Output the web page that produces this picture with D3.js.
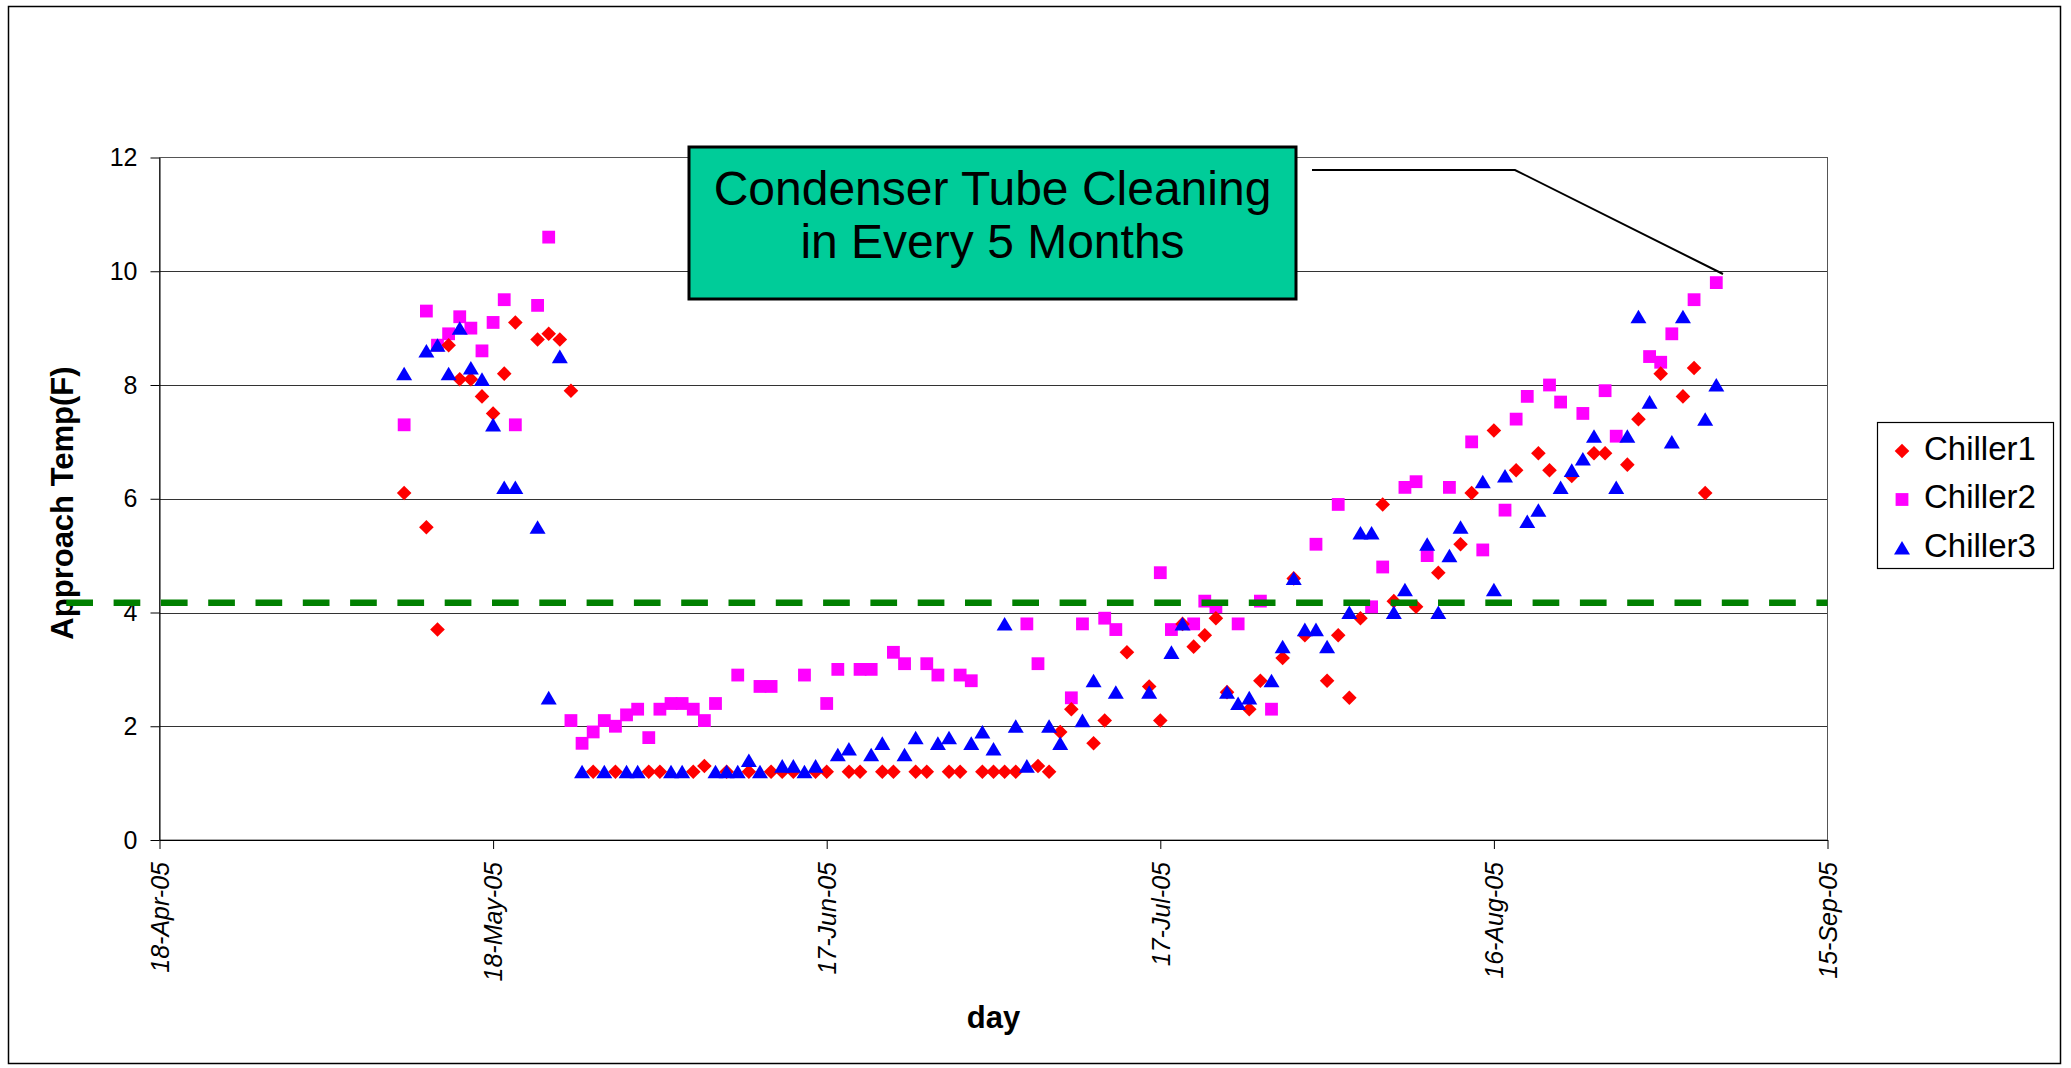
<!DOCTYPE html>
<html lang="en">
<head>
<meta charset="utf-8">
<script src="https://d3js.org/d3.v7.min.js"></script>
<style>
  body { margin: 0; background: #fff; }
  text { font-family: "Liberation Sans", Arial, sans-serif; }
</style>
</head>
<body>
<script>
// data: day offsets counted from 18-Apr-05, approach temperature in F
var chiller1Day  = [22,24,25,26,27,28,29,30,31,32,34,35,36,37,
                    39,41,44,45,48,49,51,53,55,56,57,59,60,62,63,65,66,68,69,71,72,74,75,76,77,79,80,
                    81,82,84,85,87,89,90,92,93,94,95,96,98,99,101,102,103,105,106,107,108,110,111,113,
                    115,117,118,120,122,124,125,127,129,130,132,133,135,137,138,139];
var chiller1Temp = [6.1,5.5,3.7,8.7,8.1,8.1,7.8,7.5,8.2,9.1,8.8,8.9,8.8,7.9,
                    1.2,1.2,1.2,1.2,1.2,1.3,1.2,1.2,1.2,1.2,1.2,1.2,1.2,1.2,1.2,1.2,1.2,1.2,1.2,1.2,1.2,1.2,1.2,1.2,1.2,1.3,1.2,
                    1.9,2.3,1.7,2.1,3.3,2.7,2.1,3.8,3.4,3.6,3.9,2.6,2.3,2.8,3.2,4.6,3.6,2.8,3.6,2.5,3.9,5.9,4.2,4.1,
                    4.7,5.2,6.1,7.2,6.5,6.8,6.5,6.4,6.8,6.8,6.6,7.4,8.2,7.8,8.3,6.1];

var chiller2Day  = [22,24,25,26,27,28,29,30,31,32,34,35,
                    37,38,39,40,41,42,43,44,45,46,47,48,49,50,52,54,55,58,60,61,63,64,66,67,69,70,72,73,
                    78,79,82,83,85,86,90,91,93,94,95,97,99,100,104,106,109,110,112,113,114,116,118,119,
                    121,122,123,125,126,128,130,131,134,135,136,138,140];
var chiller2Temp = [7.3,9.3,8.7,8.9,9.2,9.0,8.6,9.1,9.5,7.3,9.4,10.6,
                    2.1,1.7,1.9,2.1,2.0,2.2,2.3,1.8,2.3,2.4,2.4,2.3,2.1,2.4,2.9,2.7,2.7,2.9,2.4,3.0,3.0,3.0,3.3,3.1,3.1,2.9,2.9,2.8,
                    3.8,3.1,2.5,3.8,3.9,3.7,4.7,3.7,3.8,4.2,4.1,3.8,4.2,2.3,5.2,5.9,4.1,4.8,6.2,6.3,5.0,6.2,7.0,5.1,
                    5.8,7.4,7.8,8.0,7.7,7.5,7.9,7.1,8.5,8.4,8.9,9.5,9.8];

var chiller3Day  = [22,24,25,26,27,28,29,30,31,32,34,35,36,
                    38,40,42,43,46,47,50,51,52,53,54,56,57,58,59,61,62,64,65,67,68,70,71,73,74,75,76,77,78,
                    80,81,83,84,86,89,91,92,96,97,98,100,101,102,103,104,105,107,108,109,111,112,114,115,
                    116,117,119,120,121,123,124,126,127,128,129,131,132,133,134,136,137,139,140];
var chiller3Temp = [8.2,8.6,8.7,8.2,9.0,8.3,8.1,7.3,6.2,6.2,5.5,2.5,8.5,
                    1.2,1.2,1.2,1.2,1.2,1.2,1.2,1.2,1.2,1.4,1.2,1.3,1.3,1.2,1.3,1.5,1.6,1.5,1.7,1.5,1.8,1.7,1.8,1.7,1.9,1.6,3.8,2.0,1.3,
                    2.0,1.7,2.1,2.8,2.6,2.6,3.3,3.8,2.6,2.4,2.5,2.8,3.4,4.6,3.7,3.7,3.4,4.0,5.4,5.4,4.0,4.4,5.2,4.0,
                    5.0,5.5,6.3,4.4,6.4,5.6,5.8,6.2,6.5,6.7,7.1,6.2,7.1,9.2,7.7,7.0,9.2,7.4,8.0];

var seriesNames = ["Chiller1", "Chiller2", "Chiller3"];
var xTickDays   = [0, 30, 60, 90, 120, 150];
var yTicks      = [0, 2, 4, 6, 8, 10, 12];
var targetTemp  = 4.17;

var width  = 2071;
var height = 1068;
var plotLeft = 159.5, plotRight = 1827.5, plotTop = 157.5, plotBottom = 840;
var font = '"Liberation Sans", Arial, sans-serif';

var startDate = new Date(2005, 3, 18);
function dayDate(d) { return d3.timeDay.offset(startDate, d); }

var x = d3.scaleTime()
          .domain([startDate, dayDate(150)])
          .range([plotLeft, plotRight]);
var y = d3.scaleLinear()
          .domain([0, 12])
          .range([plotBottom, plotTop]);

var svg = d3.select("body")
            .append("svg")
            .attr("width", width)
            .attr("height", height);

svg.append("rect")
   .attr("x", 0).attr("y", 0)
   .attr("width", width).attr("height", height)
   .attr("fill", "#fff");

// outer chart border
svg.append("rect")
   .attr("x", 8.5).attr("y", 6.5)
   .attr("width", 2052).attr("height", 1057)
   .attr("fill", "none")
   .attr("stroke", "#000")
   .attr("stroke-width", 1.5);

// gridlines
svg.append("g")
   .selectAll("line")
   .data(yTicks.filter(function(t) { return t > 0 && t < 12; }))
   .enter().append("line")
   .attr("x1", plotLeft).attr("x2", plotRight)
   .attr("y1", function(d) { return Math.round(y(d)) + 0.5; })
   .attr("y2", function(d) { return Math.round(y(d)) + 0.5; })
   .attr("stroke", "#333")
   .attr("stroke-width", 1);

// plot border
svg.append("rect")
   .attr("x", plotLeft).attr("y", plotTop)
   .attr("width", plotRight - plotLeft).attr("height", plotBottom - plotTop)
   .attr("fill", "none")
   .attr("stroke", "#555")
   .attr("stroke-width", 1);

// y axis
var yAxis = svg.append("g")
   .attr("transform", "translate(" + plotLeft + ",0)")
   .call(d3.axisLeft(y).tickValues(yTicks).tickSize(9).tickPadding(13).tickSizeOuter(0));
yAxis.select(".domain").attr("stroke", "#000");
yAxis.selectAll(".tick line").attr("stroke", "#000");
yAxis.selectAll("text")
     .attr("font-family", font)
     .attr("font-size", 25)
     .attr("fill", "#000");

// x axis
var xAxis = svg.append("g")
   .attr("transform", "translate(0," + plotBottom + ")")
   .call(d3.axisBottom(x)
           .tickValues(xTickDays.map(dayDate))
           .tickFormat(d3.timeFormat("%d-%b-%y"))
           .tickSize(9)
           .tickSizeOuter(0));
xAxis.select(".domain").attr("stroke", "#000");
xAxis.selectAll(".tick line").attr("stroke", "#000");
xAxis.selectAll("text")
     .attr("font-family", font)
     .attr("font-size", 25)
     .attr("font-style", "italic")
     .attr("fill", "#000")
     .attr("text-anchor", "end")
     .attr("transform", "rotate(-90)")
     .attr("x", -22)
     .attr("y", 0)
     .attr("dy", "0.35em");

// axis titles
svg.append("text")
   .attr("transform", "translate(62,503) rotate(-90)")
   .attr("text-anchor", "middle")
   .attr("dy", "0.35em")
   .attr("font-family", font)
   .attr("font-size", 31)
   .attr("font-weight", "bold")
   .text("Approach Temp(F)");

svg.append("text")
   .attr("x", (plotLeft + plotRight) / 2)
   .attr("y", 1028)
   .attr("text-anchor", "middle")
   .attr("font-family", font)
   .attr("font-size", 31)
   .attr("font-weight", "bold")
   .text("day");

// markers
var markerPath = {
    Chiller1: "M0,-7.3L7.3,0L0,7.3L-7.3,0Z",
    Chiller2: "M-6.4,-6.4h12.8v12.8h-12.8Z",
    Chiller3: "M0,-7L8,6.6L-8,6.6Z"
};
var markerColour = { Chiller1: "#FF0000", Chiller2: "#FF00FF", Chiller3: "#0000FF" };

function drawSeries(name, days, temps) {
    svg.append("g")
       .selectAll("path")
       .data(days.map(function(d, i) { return { day: d, temp: temps[i] }; }))
       .enter().append("path")
       .attr("d", markerPath[name])
       .attr("transform", function(p) { return "translate(" + x(dayDate(p.day)) + "," + y(p.temp) + ")"; })
       .attr("fill", markerColour[name]);
}
drawSeries("Chiller2", chiller2Day, chiller2Temp);
drawSeries("Chiller1", chiller1Day, chiller1Temp);
drawSeries("Chiller3", chiller3Day, chiller3Temp);

// target line
svg.append("line")
   .attr("x1", 53).attr("x2", plotRight)
   .attr("y1", y(targetTemp)).attr("y2", y(targetTemp))
   .attr("stroke", "#008000")
   .attr("stroke-width", 6.5)
   .attr("stroke-dasharray", "26.7,20.6")
   .attr("stroke-dashoffset", 34);

// annotation
svg.append("polyline")
   .attr("points", "1312,170 1515,170 1723,274")
   .attr("fill", "none")
   .attr("stroke", "#000")
   .attr("stroke-width", 2);

svg.append("rect")
   .attr("x", 689).attr("y", 147)
   .attr("width", 607).attr("height", 152)
   .attr("fill", "#00CC99")
   .attr("stroke", "#000")
   .attr("stroke-width", 3);

svg.append("text")
   .attr("x", 992.5).attr("y", 205)
   .attr("text-anchor", "middle")
   .attr("font-family", font)
   .attr("font-size", 48)
   .text("Condenser Tube Cleaning");
svg.append("text")
   .attr("x", 992.5).attr("y", 258)
   .attr("text-anchor", "middle")
   .attr("font-family", font)
   .attr("font-size", 48)
   .text("in Every 5 Months");

// legend
var legend = svg.append("g");
legend.append("rect")
      .attr("x", 1877.5).attr("y", 422.5)
      .attr("width", 176).attr("height", 146)
      .attr("fill", "#fff")
      .attr("stroke", "#000")
      .attr("stroke-width", 1.2);
seriesNames.forEach(function(name, i) {
    legend.append("path")
          .attr("d", markerPath[name])
          .attr("transform", "translate(1902," + (451 + i * 48.5) + ")")
          .attr("fill", markerColour[name]);
    legend.append("text")
          .attr("x", 1924)
          .attr("y", 460 + i * 48.3)
          .attr("font-family", font)
          .attr("font-size", 33)
          .text(name);
});
</script>
</body>
</html>
